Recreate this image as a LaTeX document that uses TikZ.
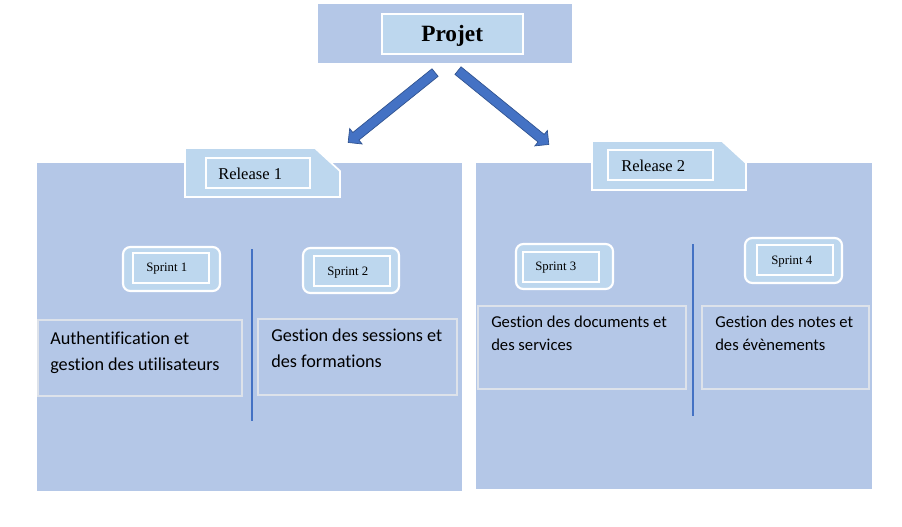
\documentclass[tikz,border=0pt]{standalone}
\usepackage{fontspec}
\setmainfont{Liberation Serif}
\newfontfamily\bodyfont[Ligatures={NoCommon}]{Carlito}
\usepackage{xcolor}
\usepackage{tikz}
\usetikzlibrary{positioning,fit,calc,shapes.arrows}

\definecolor{boxblue}{HTML}{B4C7E7}
\definecolor{tabblue}{HTML}{BDD7EE}
\definecolor{arrblue}{HTML}{4472C4}
\definecolor{arredge}{HTML}{2F528F}
\definecolor{txtedge}{HTML}{DDE2EA}

\begin{document}
\begin{tikzpicture}[
    x=0.75pt, y=-0.75pt,
    bigbox/.style   = {fill=boxblue, inner sep=0pt},
    inbox/.style    = {fill=tabblue, draw=white, line width=0.8pt, inner sep=0pt},
    reltab/.style   = {fill=tabblue, draw=white, line width=1.3pt},
    sprbox/.style   = {fill=tabblue, draw=white, line width=1.6pt, rounded corners=5.5pt, inner sep=0pt},
    txtbox/.style   = {draw=txtedge, line width=0.8pt, inner sep=0pt},
    sep/.style      = {draw=arrblue, line width=0.8pt},
    blockarrow/.style = {single arrow, fill=arrblue, draw=arredge, line width=0.5pt,
                       minimum width=14.5pt, inner sep=3.4pt, single arrow head extend=3.8pt},
    projlbl/.style  = {font=\fontsize{17.5}{20}\selectfont\bfseries, inner sep=0pt, anchor=base west},
    rellbl/.style   = {font=\fontsize{12.4}{14}\selectfont, inner sep=0pt, anchor=base west},
    sprlbl/.style   = {font=\fontsize{9.6}{11}\selectfont, inner sep=0pt, anchor=base west},
    bodyL/.style    = {font=\bodyfont\fontsize{13.65}{19.5}\selectfont, align=left, inner sep=0pt, anchor=base west},
    bodyR/.style    = {font=\bodyfont\fontsize{12.45}{17.25}\selectfont, align=left, inner sep=0pt, anchor=base west},
]
\useasboundingbox (0,0) rectangle (902,527);
\fill[white] (0,0) rectangle (902,527);

%======== TOP: project ========
\node[bigbox, fit={(318,4) (572,63)}] (proj) {};
\node[inbox, fit={(382,14) (523,54)}] (projin) {};
\node[projlbl] (projt) at (421,42) {Projet};

% --- arrows towards the releases
\coordinate (aLs) at (437,71);
\coordinate (aLe) at (350,141);
\coordinate (aRs) at (456,69);
\coordinate (aRe) at (547,143);
\path let \p1=($(aLe)-(aLs)$), \n1={atan2(\y1,\x1)}, \n2={veclen(\x1,\y1)} in
    node[blockarrow, rotate=\n1, minimum height=\n2] (arrL) at ($(aLs)!0.5!(aLe)$) {};
\path let \p1=($(aRe)-(aRs)$), \n1={atan2(\y1,\x1)}, \n2={veclen(\x1,\y1)} in
    node[blockarrow, rotate=\n1, minimum height=\n2] (arrR) at ($(aRs)!0.5!(aRe)$) {};

%======== RELEASE 1 ========
\node[bigbox, fit={(37,163) (462,491)}] (r1box) {};
\draw[reltab] (185,148) -- (315,148) -- (340,171) -- (340,197) -- (185,197) -- cycle;
\node[inbox, fit={(206,158) (310,188)}] (rel1in) {};
\node[rellbl] (rel1t) at (218,180) {Release 1};

% --- sprints 1 and 2
\node[sprbox, fit={(123,247) (220,291)}] (sp1) {};
\node[inbox, fit={(133,253) (209,283)}] (sp1in) {};
\node[sprlbl] (sp1t) at (146,272) {Sprint 1};
\node[sprbox, fit={(303,248) (399,293)}] (sp2) {};
\node[inbox, fit={(314,256) (390,286)}] (sp2in) {};
\node[sprlbl] (sp2t) at (327,275) {Sprint 2};

\coordinate (d1a) at (252,249);
\coordinate (d1b) at (252,421);
\draw[sep] (d1a) -- (d1b);

\node[txtbox, fit={(38,320) (242,396)}] (f1) {};
\node[bodyL] (f1t) at (50,370) {Authentification et\\gestion des utilisateurs};
\node[txtbox, fit={(258,319) (457,395)}] (f2) {};
\node[bodyL] (f2t) at (271,367) {Gestion des sessions et\\des formations};

%======== RELEASE 2 ========
\node[bigbox, fit={(476,163) (872,489)}] (r2box) {};
\draw[reltab] (592,141) -- (722,141) -- (746,163) -- (746,190) -- (592,190) -- cycle;
\node[inbox, fit={(608,150) (713,180)}] (rel2in) {};
\node[rellbl] (rel2t) at (621,172) {Release 2};

% --- sprints 3 and 4
\node[sprbox, fit={(516,244) (613,289)}] (sp3) {};
\node[inbox, fit={(523,252) (599,282)}] (sp3in) {};
\node[sprlbl] (sp3t) at (535,270) {Sprint 3};
\node[sprbox, fit={(745,238) (842,283)}] (sp4) {};
\node[inbox, fit={(757,245) (833,275)}] (sp4in) {};
\node[sprlbl] (sp4t) at (771,264) {Sprint 4};

\coordinate (d2a) at (693,244);
\coordinate (d2b) at (693,416);
\draw[sep] (d2a) -- (d2b);

\node[txtbox, fit={(478,306) (686,389)}] (f3) {};
\node[bodyR] (f3t) at (491,350) {Gestion des documents et\\des services};
\node[txtbox, fit={(702,306) (869,389)}] (f4) {};
\node[bodyR] (f4t) at (715,350) {Gestion des notes et\\des évènements};

\end{tikzpicture}
\end{document}
